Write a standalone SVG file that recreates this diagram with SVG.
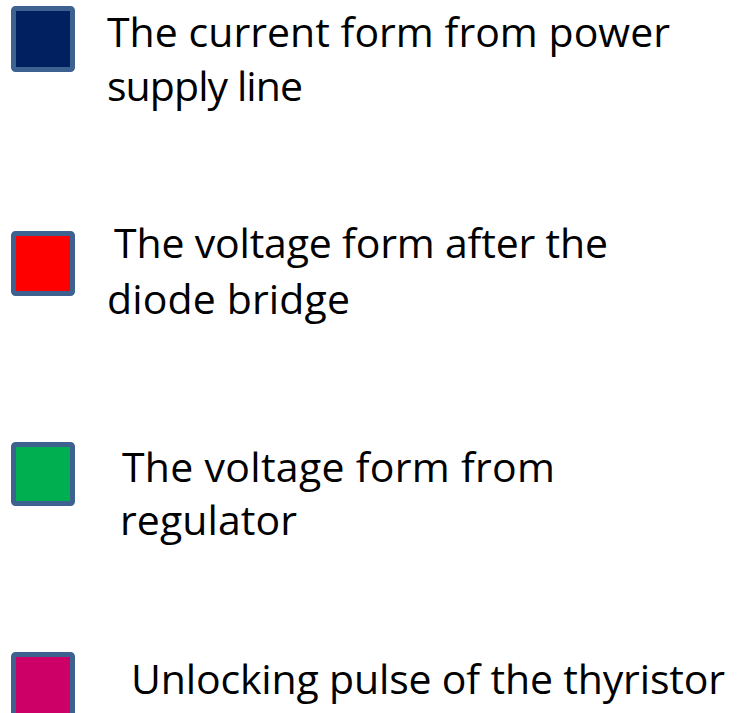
<svg xmlns="http://www.w3.org/2000/svg" width="744" height="713" viewBox="0 0 744 713">
<style>
.sw{stroke:#3D6290;stroke-width:5}
.t{font-family:"Open Sans","Noto Sans",sans-serif;font-size:41px;fill:#000}
</style>
<rect width="744" height="713" fill="#fff"/>
<g id="item1">
<rect class="sw" x="13.5" y="8.5" width="59" height="61" rx="2" fill="#002060"/>
<text class="t" x="107" y="47" textLength="563">The current form from power</text>
<text class="t" x="107" y="101" textLength="196">supply line</text>
</g>
<g id="item2">
<rect class="sw" x="13.5" y="233.5" width="59" height="60" rx="2" fill="#FF0000"/>
<text class="t" x="114" y="258" textLength="494">The voltage form after the</text>
<text class="t" x="107" y="314" textLength="243">diode bridge</text>
</g>
<g id="item3">
<rect class="sw" x="13.5" y="444.5" width="59" height="59" rx="2" fill="#00B050"/>
<text class="t" x="122" y="482" textLength="433">The voltage form from</text>
<text class="t" x="120" y="535" textLength="177">regulator</text>
</g>
<g id="item4">
<rect class="sw" x="13.5" y="654.5" width="59" height="62" rx="2" fill="#CC0066"/>
<text class="t" x="131" y="694" textLength="594">Unlocking pulse of the thyristor</text>
</g>
</svg>
